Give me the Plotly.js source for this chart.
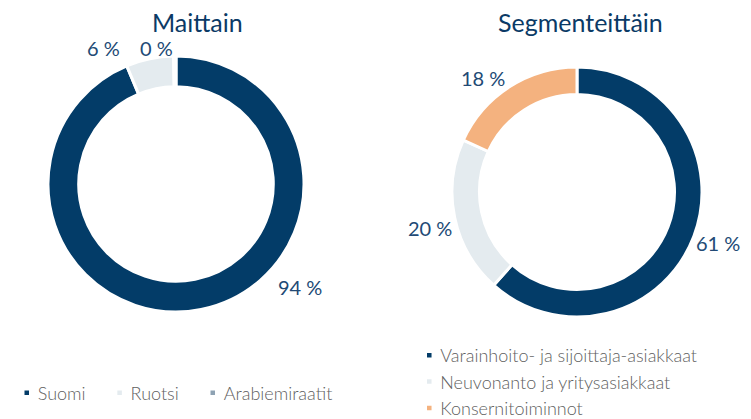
<!DOCTYPE html>
<html>
<head>
<meta charset="utf-8">
<script src="https://cdn.plot.ly/plotly-3.0.1.min.js"></script>
<style>html,body{margin:0;padding:0;background:#fff;}#chart{width:751px;height:419px;}</style>
</head>
<body>
<div id="chart"></div>
<script>
// Data
var countryLabels = ['Suomi', 'Ruotsi', 'Arabiemiraatit'];
var countryValues = [94, 6, 0.3];
var segmentLabels = ['Varainhoito- ja sijoittaja-asiakkaat', 'Neuvonanto ja yritysasiakkaat', 'Konsernitoiminnot'];
var segmentValues = [61, 20, 18];
var chartTitles = ['Maittain', 'Segmenteittäin'];

// Styles / label placement (pixel positions of the value labels)
var countryLabelPos = [[300, 287], [103, 48], [156, 48]];
var segmentLabelPos = [[718, 243], [430, 228], [483, 78]];
var countryColors = ['#033c68', '#e4ebef', '#8ea2b3'];
var segmentColors = ['#033c68', '#e4ebef', '#f4b27f'];
var fontFam = 'Lato, sans-serif';
var labelFont = {family: fontFam, size: 20, color: '#224a75', weight: 400};

var traces = [
  {
    type: 'pie', labels: countryLabels, values: countryValues,
    hole: 0.76, sort: false, direction: 'clockwise', rotation: 0,
    marker: {colors: countryColors, line: {color: '#ffffff', width: 3}},
    textinfo: 'none',
    domain: {x: [48/751, 304/751], y: [(235-128)/419, (235+128)/419]},
    legend: 'legend', hoverinfo: 'label+value'
  },
  {
    type: 'pie', labels: segmentLabels, values: segmentValues,
    hole: 0.78, sort: false, direction: 'clockwise', rotation: 0,
    marker: {colors: segmentColors, line: {color: '#ffffff', width: 3}},
    textinfo: 'none',
    domain: {x: [452/751, 702/751], y: [(227-125)/419, (227+125)/419]},
    legend: 'legend2', hoverinfo: 'label+value'
  }
];

var titleFont = {family: fontFam, size: 25, color: '#0b3a66'};
var annotations = [
  {text: chartTitles[0], x: 197/751, y: 1 - 22/419, xref: 'paper', yref: 'paper', showarrow: false, font: titleFont, xanchor: 'center', yanchor: 'middle'},
  {text: chartTitles[1], x: 580/751, y: 1 - 22/419, xref: 'paper', yref: 'paper', showarrow: false, font: titleFont, xanchor: 'center', yanchor: 'middle'}
];
function addLabels(values, pos) {
  values.forEach(function (v, i) {
    annotations.push({
      text: Math.round(v) + ' %', x: pos[i][0] / 751, y: 1 - pos[i][1] / 419,
      xref: 'paper', yref: 'paper', showarrow: false, font: labelFont, xanchor: 'center', yanchor: 'middle'
    });
  });
}
addLabels(countryValues, countryLabelPos);
addLabels(segmentValues, segmentLabelPos);

var legendFont = {family: fontFam, size: 18, color: '#5f5f5f', weight: 300};
var layout = {
  width: 751, height: 419,
  margin: {l: 0, r: 0, t: 0, b: 0, autoexpand: false},
  paper_bgcolor: '#ffffff',
  showlegend: true,
  annotations: annotations,
  legend: {
    orientation: 'h', x: -0.003, y: 1 - 393/419, xanchor: 'left', yanchor: 'middle',
    font: legendFont, itemwidth: 30, traceorder: 'normal'
  },
  legend2: {
    orientation: 'v', x: 0.533, y: 1 - 337/419, xanchor: 'left', yanchor: 'top',
    font: legendFont, itemwidth: 30, traceorder: 'normal', tracegroupgap: 0
  }
};

Plotly.newPlot('chart', traces, layout, {displayModeBar: false, staticPlot: true}).then(function (gd) {
  // smaller legend swatches, placed close to their text as in the reference
  gd.querySelectorAll('.legendpoints path').forEach(function (p) {
    p.setAttribute('transform', 'translate(29,0) scale(0.5)');
  });
});
</script>
</body>
</html>
